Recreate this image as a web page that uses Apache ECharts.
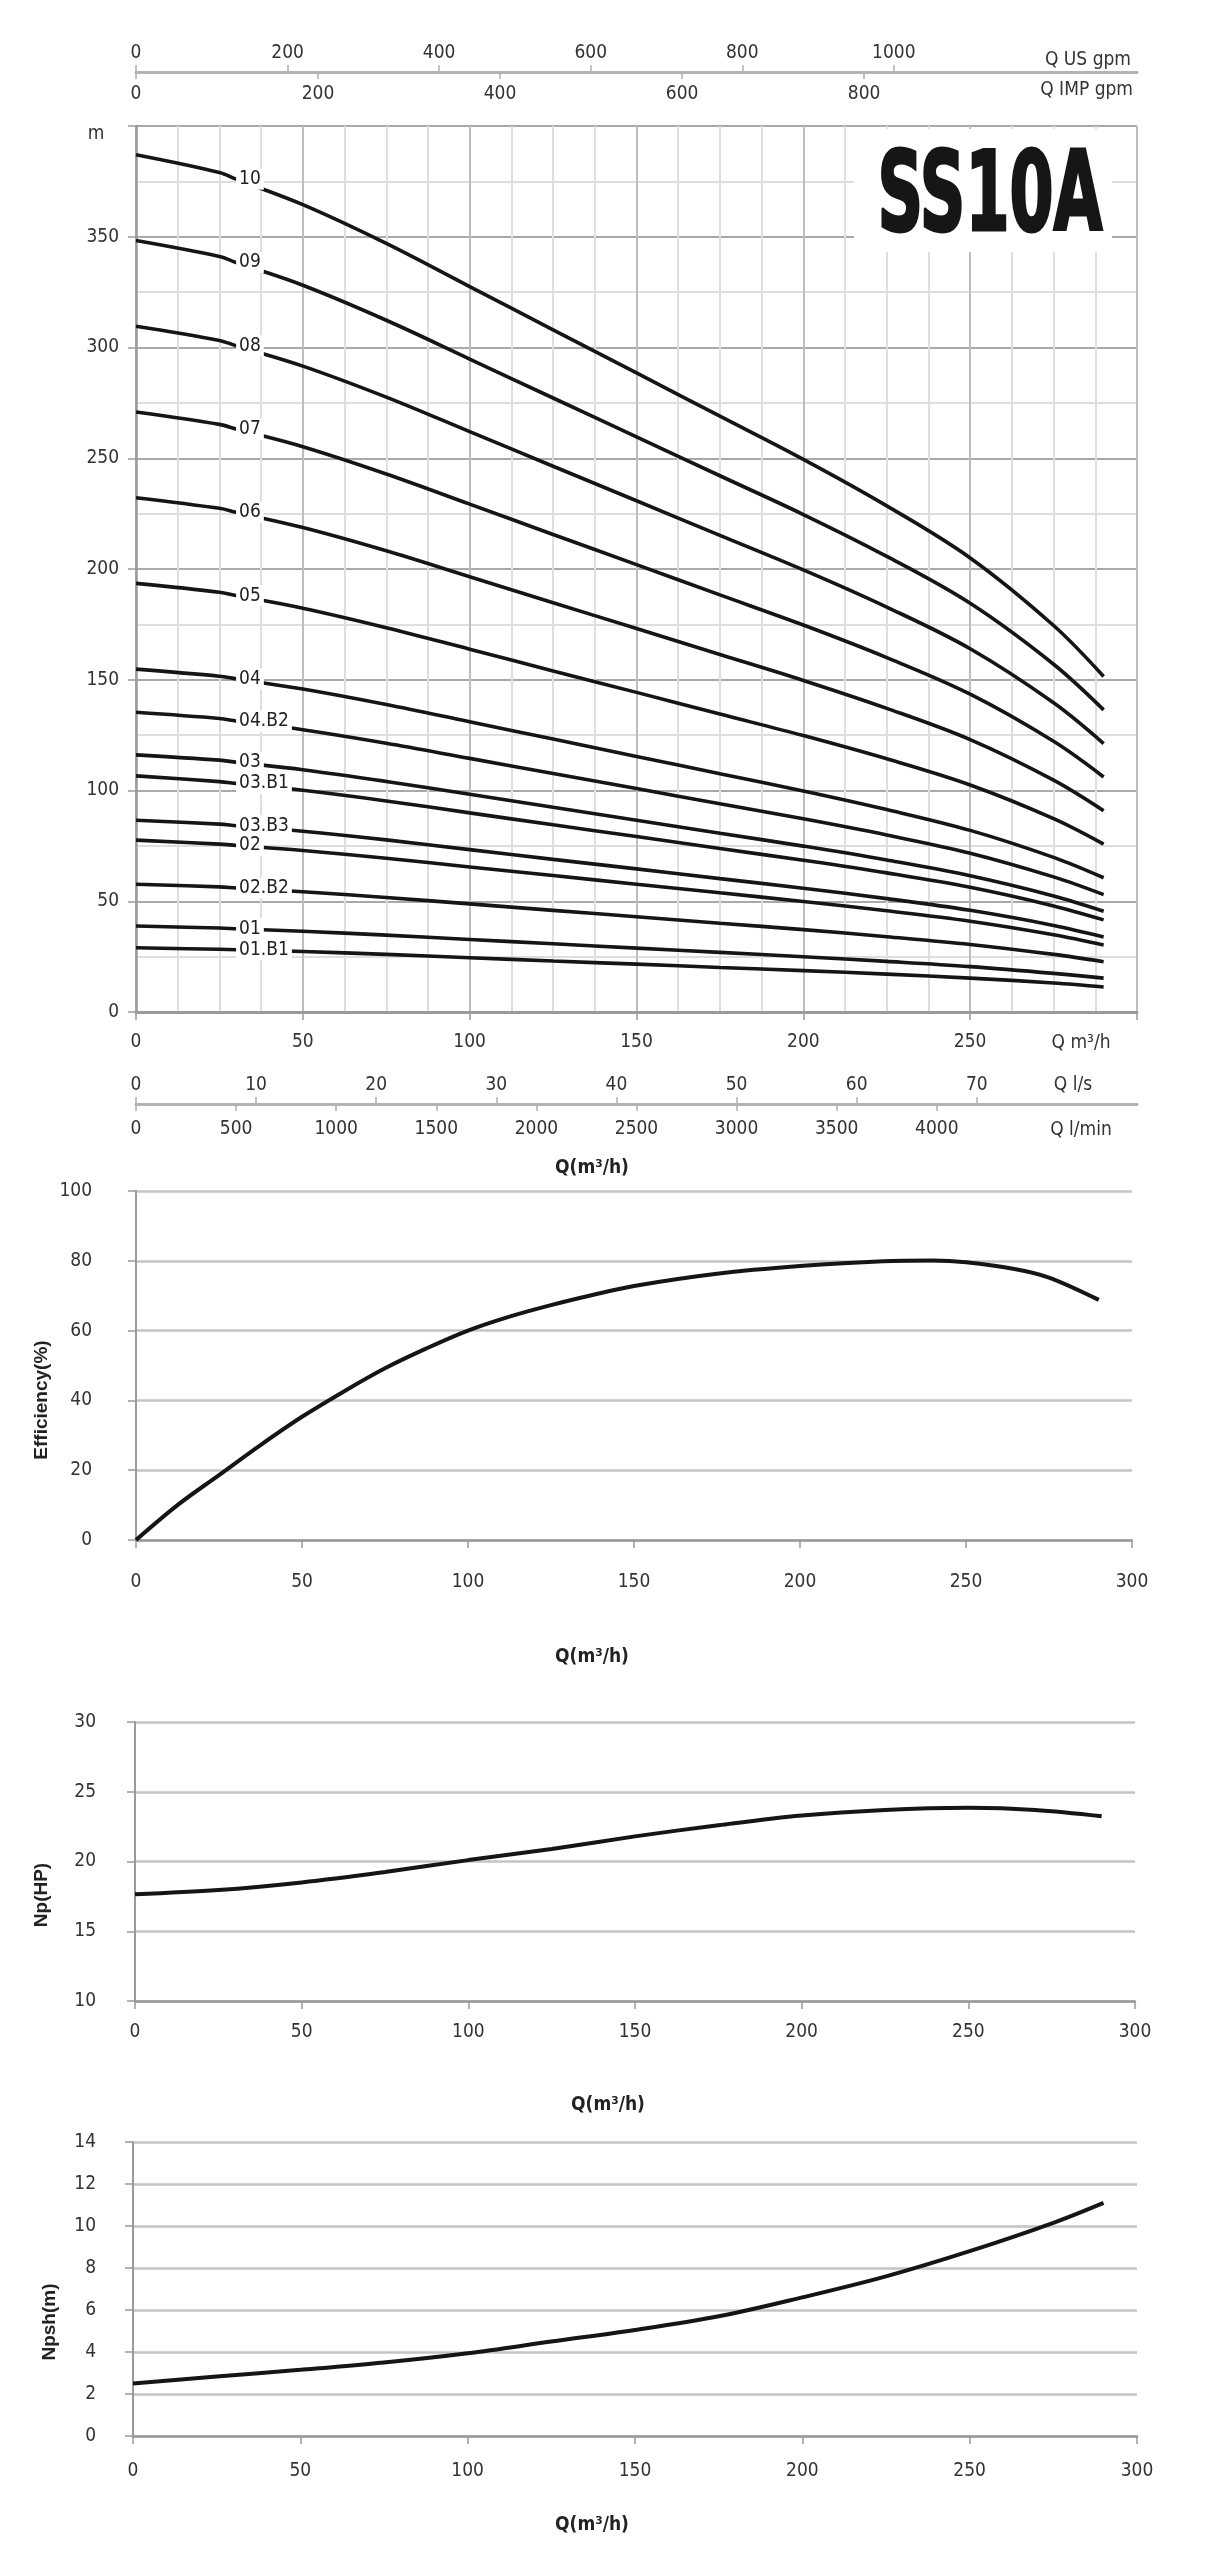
<!DOCTYPE html>
<html>
<head>
<meta charset="utf-8">
<script src="https://cdn.jsdelivr.net/npm/echarts@6/dist/echarts.min.js"></script>
<style>
  html, body { margin: 0; padding: 0; background: #fff; }
  #chart { width: 1206px; height: 2560px; }
</style>
</head>
<body>
<div id="chart"></div>
<script>
// Q (m3/h) points, 30 is where the curve labels sit
var qHead = [0, 25, 30, 50, 75, 100, 125, 150, 175, 200, 225, 250, 275, 290];
var headNames = ['10', '09', '08', '07', '06', '05', '04', '04.B2', '03', '03.B1', '03.B3', '02', '02.B2', '01', '01.B1'];
var head10 = [387, 379, 376, 364.5, 347, 327.5, 308, 288.5, 269, 249.5, 228.5, 205, 174.5, 151.5];
var head09 = [348.3, 341.1, 338.4, 328.1, 312.3, 294.8, 277.2, 259.7, 242.1, 224.6, 205.7, 184.5, 157, 136.4];
var head08 = [309.6, 303.2, 300.8, 291.6, 277.6, 262, 246.4, 230.8, 215.2, 199.6, 182.8, 164, 139.6, 121.2];
var head07 = [270.9, 265.3, 263.2, 255.2, 242.9, 229.3, 215.6, 202, 188.3, 174.7, 160, 143.5, 122.2, 106.1];
var head06 = [232.2, 227.4, 225.6, 218.7, 208.2, 196.5, 184.8, 173.1, 161.4, 149.7, 137.1, 123, 104.7, 90.9];
var head05 = [193.5, 189.5, 188, 182.3, 173.5, 163.8, 154, 144.3, 134.5, 124.8, 114.3, 102.5, 87.3, 75.8];
var head04 = [154.8, 151.6, 150.4, 145.8, 138.8, 131, 123.2, 115.4, 107.6, 99.8, 91.4, 82, 69.8, 60.6];
var head04B2 = [135.3, 132.5, 131.4, 127.4, 121.3, 114.5, 107.7, 100.9, 94, 87.2, 79.9, 71.7, 61, 53];
var head03 = [116.1, 113.7, 112.8, 109.4, 104.1, 98.3, 92.4, 86.6, 80.7, 74.9, 68.6, 61.5, 52.4, 45.5];
var head03B1 = [106.6, 104, 103.2, 100.1, 95.3, 89.9, 84.5, 79.2, 73.8, 68.5, 62.8, 56.3, 47.9, 41.6];
var head03B3 = [86.6, 84.8, 84.1, 81.6, 77.7, 73.3, 68.9, 64.6, 60.2, 55.9, 51.2, 45.9, 39.1, 33.9];
var head02 = [77.6, 75.8, 75.2, 72.9, 69.4, 65.5, 61.6, 57.7, 53.8, 49.9, 45.7, 41, 34.9, 30.3];
var head02B2 = [57.7, 56.5, 56, 54.3, 51.7, 48.8, 45.9, 43, 40.1, 37.2, 34, 30.5, 26, 22.7];
var head01 = [38.8, 37.9, 37.6, 36.45, 34.7, 32.75, 30.8, 28.85, 26.9, 24.95, 22.85, 20.5, 17.45, 15.3];
var head01B1 = [29, 28.3, 28.1, 27.3, 26, 24.5, 23, 21.6, 20.1, 18.7, 17.1, 15.3, 13.1, 11.3];
var headCurves = [head10, head09, head08, head07, head06, head05, head04, head04B2, head03, head03B1, head03B3, head02, head02B2, head01, head01B1];

var qEff = [0, 12.5, 25, 37.5, 50, 62.5, 75, 87.5, 100, 112.5, 125, 137.5, 150, 175, 200, 225, 240, 250, 265, 275, 290];
var effValues = [0, 10, 18.6, 27.2, 35.3, 42.5, 49.2, 54.9, 60, 64, 67.3, 70.2, 72.8, 76.3, 78.5, 79.9, 80.1, 79.6, 77.6, 75.2, 68.8];

var qNp = [0, 25, 50, 75, 100, 125, 150, 175, 200, 225, 250, 270, 290];
var npValues = [17.65, 17.95, 18.5, 19.25, 20.1, 20.9, 21.8, 22.6, 23.3, 23.7, 23.85, 23.7, 23.25];

var qNpsh = [0, 25, 50, 75, 100, 125, 150, 175, 200, 225, 250, 275, 290];
var npshValues = [2.5, 2.83, 3.15, 3.5, 3.94, 4.5, 5.05, 5.7, 6.6, 7.6, 8.8, 10.15, 11.1];

// secondary flow scales
var usGpmTicks = [0, 200, 400, 600, 800, 1000];
var impGpmTicks = [0, 200, 400, 600, 800];
var lsTicks = [0, 10, 20, 30, 40, 50, 60, 70];
var lminTicks = [0, 500, 1000, 1500, 2000, 2500, 3000, 3500, 4000];
var qMax = 300;
var headMax = 400;

var narrow = "'Liberation Sans Narrow', 'Arial Narrow', 'DejaVu Sans Condensed', sans-serif";
var gridGrey = '#a9a9a9';
var minorGrey = '#dedede';
var axisGrey = '#9a9a9a';

var chart = echarts.init(document.getElementById('chart'), null, { renderer: 'canvas' });

function pairs(xs, ys) {
  return xs.map(function (x, i) { return [x, ys[i]]; });
}

function plain(v) { return String(v); }

function tickLabel(margin) {
  return { color: '#333', fontFamily: narrow, fontSize: 19, margin: margin, formatter: plain };
}

// flow axis on a zero height grid, used for the extra unit scales
function unitAxis(gridIndex, position, max, ticks, margin) {
  return {
    type: 'value', gridIndex: gridIndex, position: position,
    min: 0, max: max,
    axisLine: { show: true, lineStyle: { color: '#b0b0b0', width: 2.5 } },
    axisTick: { show: true, length: 7, customValues: ticks, lineStyle: { color: '#b0b0b0', width: 1.5 } },
    axisLabel: Object.assign(tickLabel(margin), { customValues: ticks }),
    splitLine: { show: false }
  };
}

function hiddenY(gridIndex) {
  return {
    type: 'value', gridIndex: gridIndex, min: 0, max: 1, show: false,
    axisLine: { show: false }, axisTick: { show: false }, axisLabel: { show: false }, splitLine: { show: false }
  };
}

function subX(gridIndex, margin) {
  return {
    type: 'value', gridIndex: gridIndex, min: 0, max: qMax, interval: 50,
    axisLine: { show: true, lineStyle: { color: axisGrey, width: 2.5 } },
    axisTick: { show: true, length: 8, lineStyle: { color: axisGrey, width: 1.5 } },
    axisLabel: tickLabel(margin),
    splitLine: { show: false }
  };
}

function subY(gridIndex, min, max, interval, margin) {
  return {
    type: 'value', gridIndex: gridIndex, min: min, max: max, interval: interval,
    axisLine: { show: true, lineStyle: { color: axisGrey, width: 2 } },
    axisTick: { show: true, length: 8, lineStyle: { color: axisGrey, width: 1.5 } },
    axisLabel: tickLabel(margin),
    splitLine: { show: true, lineStyle: { color: '#c4c4c4', width: 2.5 } }
  };
}

var series = headCurves.map(function (curve, k) {
  return {
    type: 'line', xAxisIndex: 0, yAxisIndex: 0,
    name: headNames[k],
    smooth: 0.35,
    showSymbol: true, showAllSymbol: true, symbol: 'circle', symbolSize: 0,
    lineStyle: { color: '#151515', width: 3.6 },
    itemStyle: { color: '#151515' },
    silent: true, animation: false,
    data: pairs(qHead, curve).map(function (p, i) {
      if (i !== 2) return p;
      return {
        value: p,
        label: {
          show: true, position: 'right', distance: 0,
          formatter: headNames[k],
          color: '#222', fontFamily: narrow, fontSize: 19,
          backgroundColor: '#fff', padding: [1, 3, 1, 3]
        }
      };
    }),
    z: 5
  };
});

function curve(xIdx, yIdx, xs, ys) {
  return {
    type: 'line', xAxisIndex: xIdx, yAxisIndex: yIdx,
    smooth: 0.35, showSymbol: false,
    lineStyle: { color: '#151515', width: 4 },
    silent: true, animation: false,
    data: pairs(xs, ys)
  };
}

series.push(curve(5, 1, qEff, effValues), curve(6, 2, qNp, npValues), curve(7, 3, qNpsh, npshValues));

function txt(x, y, text, opts) {
  opts = opts || {};
  return {
    type: 'text', x: x, y: y, rotation: opts.rotation || 0, z: 10,
    style: {
      text: text, fill: opts.fill || '#333',
      font: opts.font || ('19px ' + narrow),
      textAlign: opts.align || 'center', textVerticalAlign: 'middle'
    }
  };
}

var boldTitle = "bold 19px " + narrow;
var boldSide = "bold 19px 'Liberation Sans', Arial, sans-serif";

var option = {
  backgroundColor: '#fff',
  animation: false,
  grid: [
    { left: 136, top: 126, width: 1001, height: 886 },   // head
    { left: 136, top: 72, width: 1001, height: 0 },      // gpm scales
    { left: 136, top: 1104, width: 1001, height: 0 },    // l/s, l/min scales
    { left: 136, top: 1191, width: 996, height: 349 },   // efficiency
    { left: 135, top: 1722, width: 1000, height: 279 },  // power
    { left: 133, top: 2142, width: 1004, height: 294 }   // npsh
  ],
  xAxis: [
    {
      type: 'value', gridIndex: 0, min: 0, max: qMax, interval: 50,
      axisLine: { show: true, lineStyle: { color: axisGrey, width: 3 } },
      axisTick: { show: true, length: 8, lineStyle: { color: axisGrey, width: 1.5 } },
      axisLabel: Object.assign(tickLabel(21), {
        formatter: function (v) { return v === qMax ? '' : String(v); }
      }),
      splitLine: { show: true, lineStyle: { color: '#bdbdbd', width: 2 } },
      minorTick: { show: false, splitNumber: 4 },
      minorSplitLine: { show: true, lineStyle: { color: minorGrey, width: 2 } }
    },
    unitAxis(1, 'top', qMax / 0.227124, usGpmTicks, 9),
    unitAxis(1, 'bottom', qMax / 0.272765, impGpmTicks, 13),
    unitAxis(2, 'top', qMax / 3.6, lsTicks, 9),
    unitAxis(2, 'bottom', qMax * 1000 / 60, lminTicks, 16),
    subX(3, 33),
    subX(4, 22),
    subX(5, 26)
  ],
  yAxis: [
    {
      type: 'value', gridIndex: 0, min: 0, max: headMax, interval: 50,
      axisLine: { show: true, lineStyle: { color: axisGrey, width: 2.5 } },
      axisTick: { show: true, length: 8, lineStyle: { color: axisGrey, width: 1.5 } },
      axisLabel: Object.assign(tickLabel(17), {
        formatter: function (v) { return v === headMax ? '' : String(v); }
      }),
      splitLine: { show: true, lineStyle: { color: gridGrey, width: 2 } },
      minorTick: { show: false, splitNumber: 2 },
      minorSplitLine: { show: true, lineStyle: { color: minorGrey, width: 2 } }
    },
    subY(3, 0, 100, 20, 44),
    subY(4, 10, 30, 5, 39),
    subY(5, 0, 14, 2, 37),
    hiddenY(1),
    hiddenY(2)
  ],
  series: series,
  graphic: [
    { type: 'rect', z: 8, shape: { x: 854, y: 129, width: 258, height: 123 }, style: { fill: '#fff' } },
    {
      type: 'text', x: 990, y: 201, scaleX: 0.64, z: 10,
      style: {
        text: 'SS10A', fill: '#161616',
        font: "bold 110px 'Liberation Sans Narrow', 'Arial Narrow', 'DejaVu Sans Condensed', sans-serif",
        textAlign: 'center', textVerticalAlign: 'middle',
        stroke: '#161616', lineWidth: 3
      }
    },
    txt(96, 134, 'm'),
    txt(1131, 60, 'Q US gpm', { align: 'right' }),
    txt(1133, 90, 'Q IMP gpm', { align: 'right' }),
    txt(1081, 1043, 'Q m³/h'),
    txt(1073, 1085, 'Q l/s'),
    txt(1081, 1130, 'Q l/min'),
    txt(592, 1168, 'Q(m³/h)', { font: boldTitle, fill: '#222' }),
    txt(42, 1400, 'Efficiency(%)', { font: boldSide, fill: '#222', rotation: Math.PI / 2 }),
    txt(592, 1657, 'Q(m³/h)', { font: boldTitle, fill: '#222' }),
    txt(42, 1895, 'Np(HP)', { font: boldSide, fill: '#222', rotation: Math.PI / 2 }),
    txt(608, 2105, 'Q(m³/h)', { font: boldTitle, fill: '#222' }),
    txt(50, 2322, 'Npsh(m)', { font: boldSide, fill: '#222', rotation: Math.PI / 2 }),
    txt(592, 2525, 'Q(m³/h)', { font: boldTitle, fill: '#222' })
  ]
};

chart.setOption(option);
</script>
</body>
</html>
